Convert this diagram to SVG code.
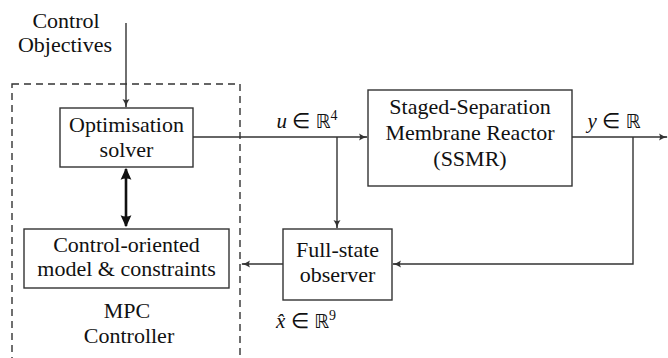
<svg xmlns="http://www.w3.org/2000/svg" width="668" height="358" viewBox="0 0 668 358">
<defs>
<marker id="a" viewBox="0 0 10 10" refX="9" refY="5" markerWidth="10" markerHeight="10" markerUnits="userSpaceOnUse" orient="auto">
<path d="M1,1.5 Q5,4.5 10,5 Q5,5.5 1,8.5 Q3,5 1,1.5Z" fill="#333"/>
</marker>
<marker id="b" viewBox="0 0 10 10" refX="9" refY="5" markerWidth="12" markerHeight="12" markerUnits="userSpaceOnUse" orient="auto-start-reverse">
<path d="M0,0.5 L10,5 L0,9.5 Q2,5 0,0.5Z" fill="#111"/>
</marker>
</defs>
<g font-family="Liberation Serif" font-size="22" fill="#111" text-anchor="middle">
<rect x="12" y="84" width="228" height="290" fill="none" stroke="#333" stroke-width="1.4" stroke-dasharray="7 5"/>
<text x="127" y="318">MPC</text>
<text x="129" y="343">Controller</text>
<text x="66" y="28">Control</text>
<text x="65" y="52">Objectives</text>
<g id="connectors" stroke="#333" stroke-width="1.4">
<line x1="126" y1="23" x2="126" y2="107" marker-end="url(#a)"/>
<line x1="126" y1="169" x2="126" y2="226" stroke="#111" stroke-width="2.6" marker-start="url(#b)" marker-end="url(#b)"/>
<line x1="193" y1="137" x2="367" y2="137" marker-end="url(#a)"/>
<line x1="337" y1="137" x2="337" y2="228" marker-end="url(#a)"/>
<line x1="572" y1="137" x2="667" y2="137" marker-end="url(#a)"/>
<polyline fill="none" points="633,137 633,264 393,264" marker-end="url(#a)"/>
<line x1="283" y1="264" x2="242" y2="264" marker-end="url(#a)"/>
</g>
<text x="307" y="128" font-size="21"><tspan font-style="italic">u</tspan> &#8712; <tspan font-family="DejaVu Sans" font-size="19">&#8477;</tspan><tspan font-size="14" dy="-8">4</tspan></text>
<text x="614" y="128" font-size="21"><tspan font-style="italic">y</tspan> &#8712; <tspan font-family="DejaVu Sans" font-size="19">&#8477;</tspan></text>
<text x="306" y="328" font-size="21"><tspan font-style="italic">x&#770;</tspan> &#8712; <tspan font-family="DejaVu Sans" font-size="19">&#8477;</tspan><tspan font-size="14" dy="-8">9</tspan></text>
<g id="optimisation-solver">
<rect x="60" y="108" width="133" height="59" fill="#fff" stroke="#333" stroke-width="1.4"/>
<text x="126.5" y="132">Optimisation</text>
<text x="126.5" y="157">solver</text>
</g>
<g id="control-oriented-model">
<rect x="24" y="229" width="205" height="59" fill="#fff" stroke="#333" stroke-width="1.4"/>
<text x="126.5" y="252">Control-oriented</text>
<text x="126.5" y="276">model &amp; constraints</text>
</g>
<g id="ssmr">
<rect x="368" y="90" width="204" height="96" fill="#fff" stroke="#333" stroke-width="1.4"/>
<text x="470" y="114">Staged-Separation</text>
<text x="470" y="140">Membrane Reactor</text>
<text x="470" y="166">(SSMR)</text>
</g>
<g id="observer">
<rect x="283" y="229" width="109" height="71" fill="#fff" stroke="#333" stroke-width="1.4"/>
<text x="337.5" y="257">Full-state</text>
<text x="337.5" y="282">observer</text>
</g>
</g>
</svg>
